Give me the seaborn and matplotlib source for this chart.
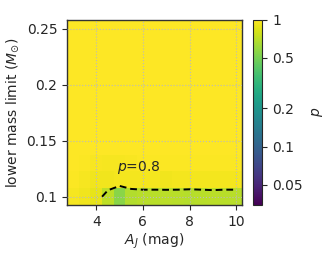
import numpy as np
import matplotlib
matplotlib.use("Agg")
import matplotlib.pyplot as plt
from matplotlib.colors import LogNorm
import seaborn as sns

# Data
aj = [3.0, 3.5, 4.0, 4.5, 5.0, 5.5, 6.0, 6.5, 7.0, 7.5, 8.0, 8.5, 9.0, 9.5, 10.0]
mass = [0.100, 0.115, 0.130, 0.145, 0.160, 0.175, 0.190, 0.205, 0.220, 0.235, 0.250]
row_010 = [0.96, 0.93, 0.88, 0.72, 0.55, 0.68, 0.70, 0.70, 0.71, 0.70, 0.69, 0.70, 0.71, 0.70, 0.70]
row_0115 = [0.98, 0.95, 0.93, 0.93, 0.94, 0.94, 0.94, 0.94, 0.93, 0.94, 0.94, 0.94, 0.94, 0.94, 0.94]
row_0130 = [0.99, 0.98, 0.97, 0.96, 0.96, 0.97, 0.98, 0.98, 0.98, 0.98, 0.98, 0.98, 0.98, 0.98, 0.98]
row_high = [0.99] * 15
contour_level = [0.8]
cbar_ticks = [0.05, 0.1, 0.2, 0.5, 1]
cbar_ticklabels = ["0.05", "0.1", "0.2", "0.5", "1"]
xticks = [4, 6, 8, 10]
yticks = [0.1, 0.15, 0.2, 0.25]
yticklabels = ["0.1", "0.15", "0.2", "0.25"]

Z = np.array([row_010, row_0115, row_0130] + [row_high] * (len(mass) - 3))

sns.set_style("ticks")
plt.rcParams["font.family"] = ["DejaVu Sans"]

fig = plt.figure(figsize=(3.32, 2.65), dpi=100)
ax = fig.add_axes([0.202, 0.226, 0.527, 0.698])
cax = fig.add_axes([0.762, 0.228, 0.028, 0.698])

cmap = sns.color_palette("viridis", as_cmap=True)
norm = LogNorm(vmin=0.035, vmax=1.0)
mesh = ax.pcolormesh(aj, mass, Z, cmap=cmap, norm=norm, shading="nearest")
cs = ax.contour(aj, mass, Z, levels=contour_level, colors="black",
                linestyles=[(0, (3.5, 2.0))], linewidths=1.4)
ax.text(4.9, 0.123, "$p$=0.8", fontsize=10)

ax.set_xlim(2.75, 10.25)
ax.set_ylim(0.0925, 0.2575)
ax.set_xticks(xticks)
ax.set_yticks(yticks)
ax.set_yticklabels(yticklabels)
ax.grid(True, linestyle=":", color="#bbbbbb", linewidth=0.8)
ax.set_axisbelow(False)
ax.tick_params(labelsize=10, length=3.5)
ax.set_xlabel("$A_J$ (mag)", fontsize=10, labelpad=2)
ax.set_ylabel(r"lower mass limit ($M_{\odot}$)", fontsize=10)
for s in ax.spines.values():
    s.set_color("#333333")
    s.set_linewidth(1.0)

cb = fig.colorbar(mesh, cax=cax)
cb.set_ticks(cbar_ticks)
cb.set_ticklabels(cbar_ticklabels)
cb.minorticks_off()
cb.ax.tick_params(labelsize=10, length=3.5)
cb.set_label("$p$", fontsize=10, labelpad=5)
cb.outline.set_linewidth(0.8)

fig.savefig("out.png", dpi=100)
